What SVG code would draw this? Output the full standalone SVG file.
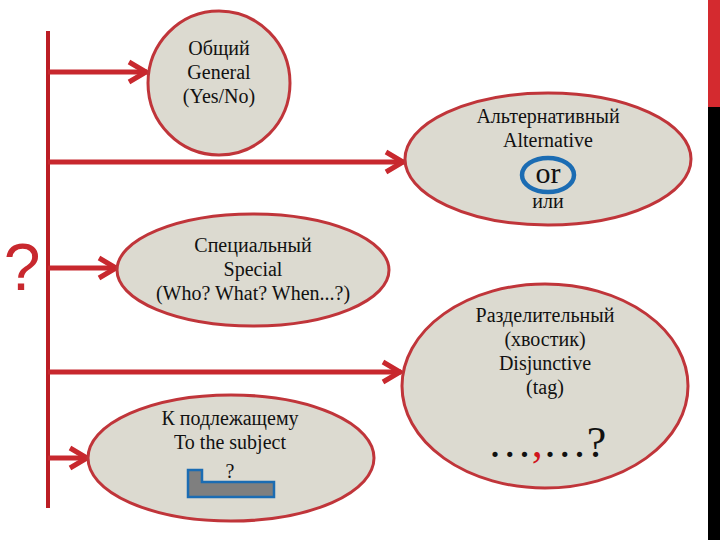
<svg xmlns="http://www.w3.org/2000/svg" width="720" height="540" viewBox="0 0 720 540">
<defs>
<style>
.node{fill:#dcdad0;stroke:#c0353a;stroke-width:3}
.t{font-family:'Liberation Serif','DejaVu Serif',serif;font-size:20px;fill:#111;text-anchor:middle}
.big{font-size:30px}
.tag{font-size:44px}
.conn{stroke:#c8282e;stroke-width:5;fill:none}
</style>
<marker id="ah" markerUnits="userSpaceOnUse" markerWidth="30" markerHeight="30" viewBox="-22 -15 30 30" refX="0" refY="0" orient="auto">
<path d="M-18,-10 L-1,0 L-18,10" fill="none" stroke="#c8282e" stroke-width="5"/>
</marker>
</defs>
<rect x="0" y="0" width="720" height="540" fill="#ffffff"/>
<rect x="708" y="0" width="12" height="107" fill="#d42a2f"/>
<rect x="708" y="107" width="12" height="433" fill="#000000"/>

<g id="connectors">
<line x1="48" y1="31" x2="48" y2="508" stroke="#bb1d24" stroke-width="4"/>
<line class="conn" x1="48" y1="72" x2="147" y2="72" marker-end="url(#ah)"/>
<line class="conn" x1="48" y1="162" x2="404" y2="162" marker-end="url(#ah)"/>
<line class="conn" x1="48" y1="268" x2="117" y2="268" marker-end="url(#ah)"/>
<line class="conn" x1="48" y1="372" x2="401" y2="372" marker-end="url(#ah)"/>
<line class="conn" x1="48" y1="458" x2="88" y2="458" marker-end="url(#ah)"/>
</g>

<text x="22" y="290" font-family="'Liberation Sans', Arial, sans-serif" font-size="66" fill="#c8282e" text-anchor="middle">?</text>

<g id="general">
<ellipse class="node" cx="219" cy="83" rx="71" ry="72"/>
<text class="t" x="219" y="55">Общий</text>
<text class="t" x="219" y="79">General</text>
<text class="t" x="219" y="103">(Yes/No)</text>
</g>

<g id="alternative">
<ellipse class="node" cx="548" cy="159" rx="143" ry="66"/>
<text class="t" x="548" y="123">Альтернативный</text>
<text class="t" x="548" y="147">Alternative</text>
<ellipse cx="548" cy="175" rx="26" ry="17" fill="none" stroke="#1b6cb3" stroke-width="4.5"/>
<text class="t big" x="548" y="183">or</text>
<text class="t" x="548" y="208">или</text>
</g>

<g id="special">
<ellipse class="node" cx="253" cy="270" rx="136" ry="56"/>
<text class="t" x="253" y="252">Специальный</text>
<text class="t" x="253" y="276">Special</text>
<text class="t" x="253" y="300">(Who? What? When...?)</text>
</g>

<g id="disjunctive">
<ellipse class="node" cx="545" cy="386" rx="143" ry="102"/>
<text class="t" x="545" y="322">Разделительный</text>
<text class="t" x="545" y="346">(хвостик)</text>
<text class="t" x="545" y="370">Disjunctive</text>
<text class="t" x="545" y="394">(tag)</text>
<text class="t tag" x="547" y="457">…<tspan fill="#d0141c">,</tspan>…?</text>
</g>

<g id="subject">
<ellipse class="node" cx="231" cy="458" rx="143" ry="63"/>
<text class="t" x="230" y="425">К подлежащему</text>
<text class="t" x="230" y="449">To the subject</text>
<text class="t" x="230" y="478">?</text>
<polygon points="188,470 202,470 202,482 274,482 274,497 188,497" fill="#7f7f7f" stroke="#1b6cb3" stroke-width="2.5"/>
</g>
</svg>
